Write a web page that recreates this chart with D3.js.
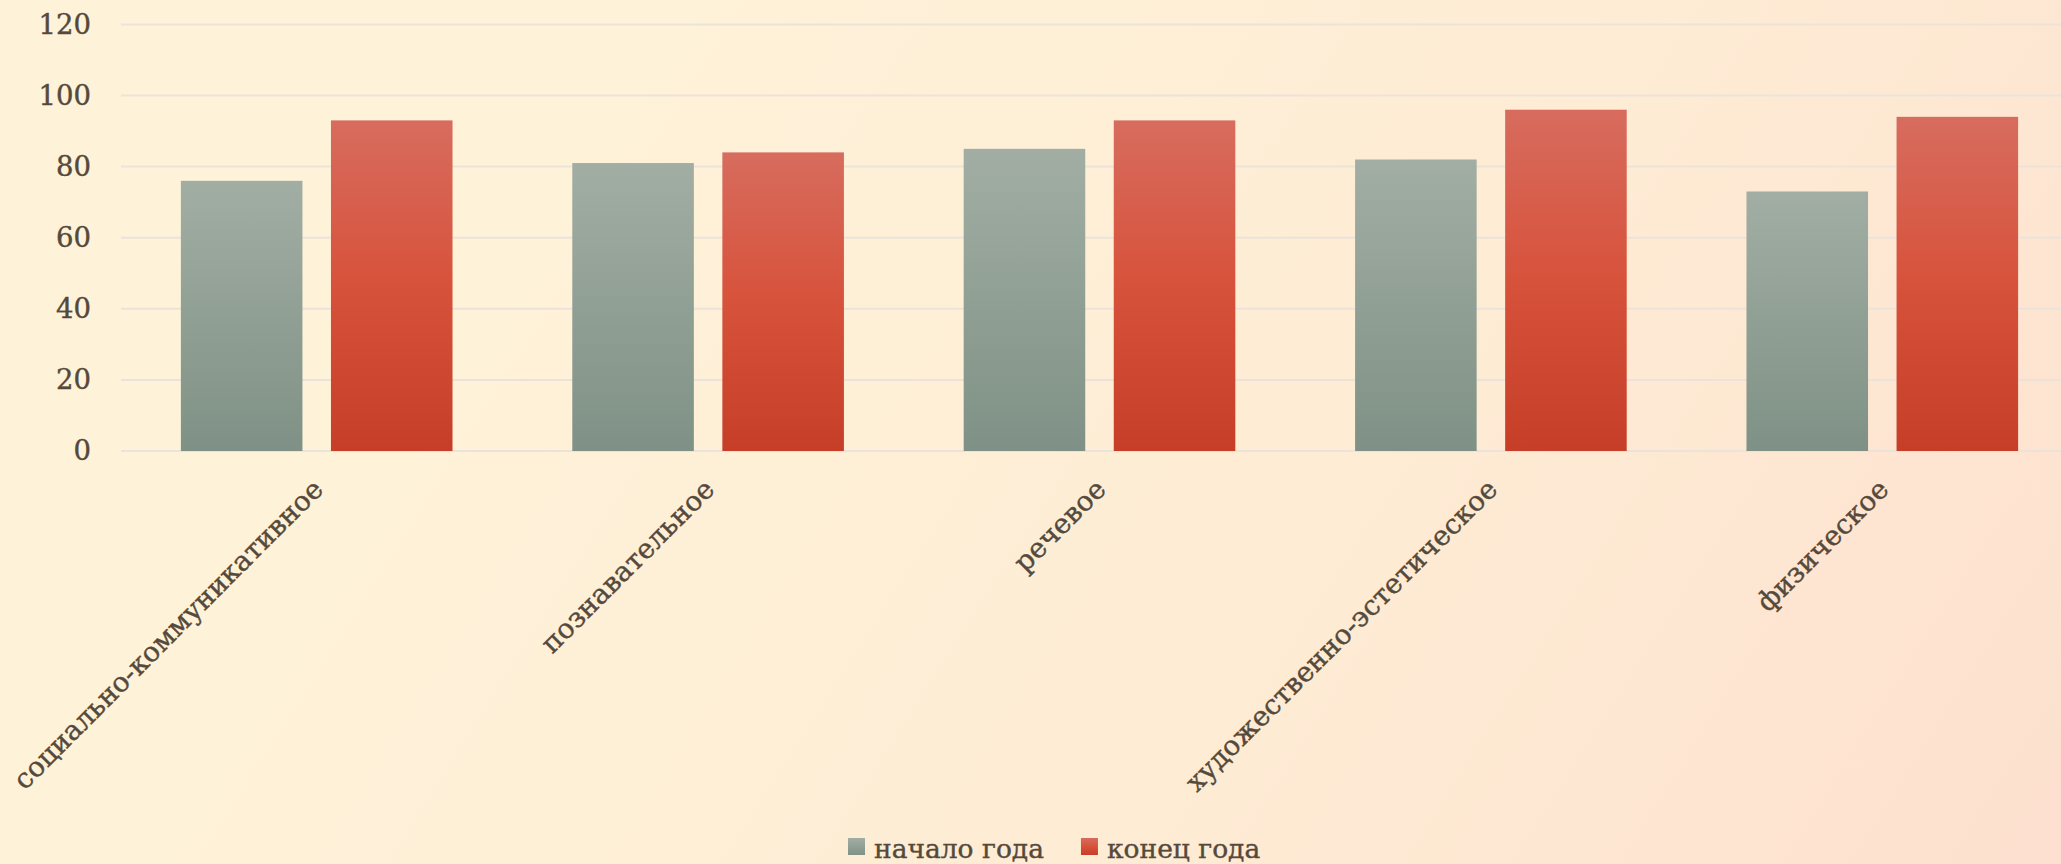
<!DOCTYPE html>
<html><head><meta charset="utf-8">
<script src="https://cdn.jsdelivr.net/npm/d3@7"></script>
<style>html,body{margin:0;padding:0;overflow:hidden;background:#fef2d9}</style>
</head><body>
<svg id="chart" width="2061" height="864"></svg>
<script>
const categories = ["социально-коммуникативное","познавательное","речевое","художественно-эстетическое","физическое"];
const seriesNames = ["начало года","конец года"];
const startValues = [76, 81, 85, 82, 73];
const endValues = [93, 84, 93, 96, 94];
const yTicks = [0, 20, 40, 60, 80, 100, 120];

(function(){
const W = 2061, H = 864;
const svg = d3.select("#chart");
const defs = svg.append("defs");
const bg = defs.append("linearGradient").attr("id","bg").attr("gradientUnits","userSpaceOnUse")
  .attr("x1",700).attr("y1",0).attr("x2",2061).attr("y2",864);
bg.append("stop").attr("offset",0).attr("stop-color","#fef2d9");
bg.append("stop").attr("offset",0.55).attr("stop-color","#feebd4");
bg.append("stop").attr("offset",1).attr("stop-color","#fde0cf");
svg.append("rect").attr("width",W).attr("height",H).attr("fill","url(#bg)");

const g1 = defs.append("linearGradient").attr("id","gGrey").attr("x1",0).attr("y1",0).attr("x2",0).attr("y2",1);
g1.append("stop").attr("offset",0).attr("stop-color","#a2aea3");
g1.append("stop").attr("offset",1).attr("stop-color","#7f9186");
const g2 = defs.append("linearGradient").attr("id","gRed").attr("x1",0).attr("y1",0).attr("x2",0).attr("y2",1);
g2.append("stop").attr("offset",0).attr("stop-color","#d76c5e");
g2.append("stop").attr("offset",0.5).attr("stop-color","#d7523b");
g2.append("stop").attr("offset",1).attr("stop-color","#c63e28");
const fills = ["url(#gGrey)","url(#gRed)"];

const font = "'DejaVu Serif', serif";
const textColor = "#54493b";
const mLeft = 121, mRight = 2078, mTop = 24.4, mBottom = 451;

const x0 = d3.scaleBand().domain(categories).range([mLeft, mRight]).paddingInner(0.306).paddingOuter(0.153);
const x1 = d3.scaleBand().domain(seriesNames).range([0, x0.bandwidth()]).paddingInner(0.19).paddingOuter(0);
const y = d3.scaleLinear().domain([0,120]).range([mBottom, mTop]);

svg.append("g").selectAll("line").data(yTicks).join("line")
  .attr("x1", mLeft).attr("x2", W).attr("y1", d=>y(d)).attr("y2", d=>y(d))
  .attr("stroke","#ebe3da").attr("stroke-width",2);

const yAxis = d3.axisLeft(y).tickValues(yTicks).tickSize(0).tickPadding(0);
const ya = svg.append("g").attr("transform","translate(91,0)").call(yAxis);
ya.select(".domain").remove();
ya.selectAll("text").attr("font-family",font).attr("font-size",27.5).attr("fill",textColor)
  .attr("stroke",textColor).attr("stroke-width",0.4).attr("dy","0.32em");

const data = categories.map((c,i)=>({cat:c, vals:[startValues[i], endValues[i]]}));
const grp = svg.append("g").selectAll("g").data(data).join("g")
  .attr("transform", d=>`translate(${x0(d.cat)},0)`);
grp.selectAll("rect").data(d=>d.vals.map((v,j)=>({v, s:seriesNames[j], j})))
  .join("rect")
  .attr("x", d=>x1(d.s)).attr("width", x1.bandwidth())
  .attr("y", d=>y(d.v)).attr("height", d=>y(0)-y(d.v))
  .attr("fill", d=>fills[d.j]);

const xAxis = d3.axisBottom(x0).tickSize(0).tickPadding(0);
const xa = svg.append("g").attr("transform",`translate(0,${mBottom})`).call(xAxis);
xa.select(".domain").remove();
xa.selectAll("text").attr("font-family",font).attr("font-size",27.5).attr("fill",textColor)
  .attr("stroke",textColor).attr("stroke-width",0.4)
  .attr("text-anchor","end").attr("dy",0)
  .attr("transform","translate(8,40) rotate(-45)");

const leg = svg.append("g");
let lx = 848;
seriesNames.forEach((s,i)=>{
  leg.append("rect").attr("x",lx).attr("y",838).attr("width",17).attr("height",17).attr("fill",fills[i]);
  const t = leg.append("text").attr("x",lx+26).attr("y",858).attr("font-family",font).attr("font-size",26.5)
    .attr("fill",textColor).attr("stroke",textColor).attr("stroke-width",0.4).text(s);
  lx = lx + 26 + t.node().getComputedTextLength() + 37;
});
})();
</script>
</body></html>
